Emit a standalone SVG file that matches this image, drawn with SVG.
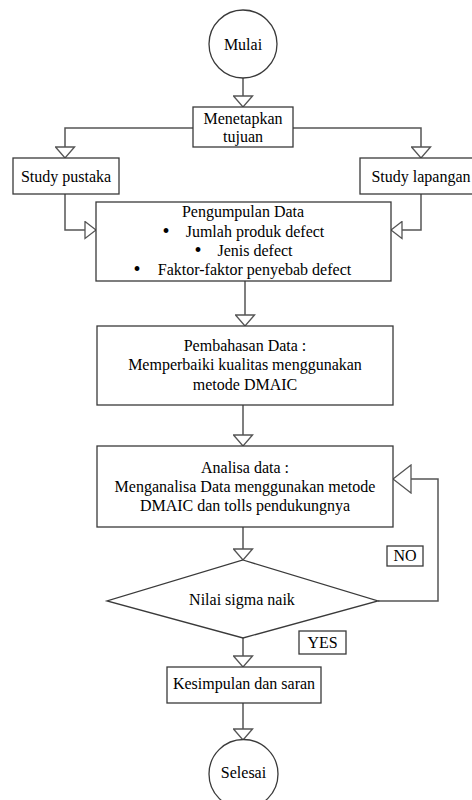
<svg xmlns="http://www.w3.org/2000/svg" width="472" height="800" viewBox="0 0 472 800">
<defs>
<style>
.box{fill:#fff;stroke:#3a3a3a;stroke-width:1.3}
.conn{fill:none;stroke:#555;stroke-width:1.5}
.t{font-family:'Liberation Serif','Times New Roman',Times,serif;font-size:16px;fill:#000;text-anchor:middle}
</style>
<marker id="arr" markerUnits="userSpaceOnUse" viewBox="-1 -1 13 21" refX="11" refY="9.5" markerWidth="13" markerHeight="21" orient="auto">
<path d="M0,0 L11,9.5 L0,19 Z" fill="#fff" stroke="#555" stroke-width="1.3"/>
</marker>
<marker id="arrBig" markerUnits="userSpaceOnUse" viewBox="-1 -1 20 30" refX="18" refY="14" markerWidth="20" markerHeight="30" orient="auto">
<path d="M0,0 L18,14 L0,28 Z" fill="#fff" stroke="#555" stroke-width="1.3"/>
</marker>
<marker id="arrSide" markerUnits="userSpaceOnUse" viewBox="-1 -1 13 19" refX="11" refY="8.5" markerWidth="13" markerHeight="19" orient="auto">
<path d="M0,0 L11,8.5 L0,17 Z" fill="#fff" stroke="#555" stroke-width="1.3"/>
</marker>
</defs>
<rect width="472" height="800" fill="#fff"/>
<g id="connectors">
<path class="conn" d="M243,78 V107" marker-end="url(#arr)"/>
<path class="conn" d="M193,128 H65 V158" marker-end="url(#arr)"/>
<path class="conn" d="M293,128 H421 V158" marker-end="url(#arr)"/>
<path class="conn" d="M65,194 V230 H96" marker-end="url(#arrSide)"/>
<path class="conn" d="M421,194 V230 H391" marker-end="url(#arrSide)"/>
<path class="conn" d="M245,281 V326" marker-end="url(#arr)"/>
<path class="conn" d="M243,405 V446" marker-end="url(#arr)"/>
<path class="conn" d="M243,527 V560" marker-end="url(#arr)"/>
<path class="conn" d="M378,601 H438 V479 H393" marker-end="url(#arrBig)"/>
<path class="conn" d="M243,638 V667" marker-end="url(#arr)"/>
<path class="conn" d="M243,703 V740" marker-end="url(#arr)"/>
</g>
<g class="t" font-family="Liberation Serif, serif">
<g id="mulai">
<circle class="box" cx="243" cy="44" r="34"/>
<text x="243" y="50">Mulai</text>
</g>
<g id="menetapkan">
<rect class="box" x="193" y="107" width="100" height="40"/>
<text x="243" y="123.5">Menetapkan</text>
<text x="243" y="142">tujuan</text>
</g>
<g id="study-pustaka">
<rect class="box" x="13" y="158" width="106" height="36"/>
<text x="66" y="182">Study pustaka</text>
</g>
<g id="study-lapangan">
<rect class="box" x="360" y="158" width="122" height="36"/>
<text x="421" y="182">Study lapangan</text>
</g>
<g id="pengumpulan">
<rect class="box" x="96" y="202" width="295" height="79"/>
<text x="243" y="217">Pengumpulan Data</text>
<text x="166" y="237.5" font-size="20">•</text>
<text x="255" y="236.5">Jumlah produk defect</text>
<text x="198" y="257" font-size="20">•</text>
<text x="255" y="256">Jenis defect</text>
<text x="137" y="276" font-size="20">•</text>
<text x="254.5" y="275">Faktor-faktor penyebab defect</text>
</g>
<g id="pembahasan">
<rect class="box" x="97" y="326" width="296" height="79"/>
<text x="245" y="351">Pembahasan Data :</text>
<text x="245" y="370">Memperbaiki kualitas menggunakan</text>
<text x="245" y="390">metode DMAIC</text>
</g>
<g id="analisa">
<rect class="box" x="97" y="446" width="296" height="81"/>
<text x="245" y="473">Analisa data :</text>
<text x="245" y="492">Menganalisa Data menggunakan metode</text>
<text x="245" y="511">DMAIC dan tolls pendukungnya</text>
</g>
<g id="nilai-sigma">
<polygon class="box" points="243,560 378,601 243,638 107,601"/>
<text x="242" y="605">Nilai sigma naik</text>
</g>
<g id="label-no">
<rect class="box" x="387" y="546" width="36" height="20"/>
<text x="405" y="561">NO</text>
</g>
<g id="label-yes">
<rect class="box" x="299" y="631" width="47" height="23"/>
<text x="322.5" y="648">YES</text>
</g>
<g id="kesimpulan">
<rect class="box" x="167" y="667" width="154" height="36"/>
<text x="244" y="689">Kesimpulan dan saran</text>
</g>
<g id="selesai">
<circle class="box" cx="243.5" cy="774" r="34.5"/>
<text x="243.5" y="778">Selesai</text>
</g>
</g>
</svg>
